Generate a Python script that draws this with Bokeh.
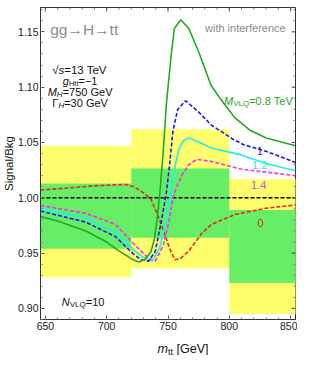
import numpy as np
from bokeh.plotting import figure
from bokeh.layouts import column
from bokeh.models import Range1d, FixedTicker, PrintfTickFormatter, Label
from bokeh.embed import file_html
from bokeh.resources import INLINE

# ---------------- data ----------------
# expected-limit bands (bins in m_tt)
bin_lo = [645, 720, 800]
bin_hi = [720, 800, 855]
sig2_lo = [0.928, 0.936, 0.895]
sig2_hi = [1.047, 1.062, 1.017]
sig1_lo = [0.954, 0.964, 0.923]
sig1_hi = [1.013, 1.0265, 0.989]

# M_VLQ = 0.8 TeV
m_08 = [646, 660, 683, 700, 710, 720, 726, 731, 736, 739, 741, 743, 746, 748.7, 752.6, 755.2, 760.5, 767, 775, 785, 793, 804, 817, 830, 854]
r_08 = [0.983, 0.979, 0.970, 0.960, 0.952, 0.945, 0.942, 0.944, 0.951, 0.963, 0.980, 1.000, 1.040, 1.085, 1.129, 1.153, 1.161, 1.153, 1.132, 1.102, 1.089, 1.073, 1.061, 1.054, 1.047]
# M_VLQ = 1 TeV
m_10 = [646, 683, 707, 722, 728, 734, 739.5, 744.8, 748.7, 751.3, 754, 757.9, 764.4, 775, 785.4, 793.3, 803.8, 811.7, 830, 854]
r_10 = [0.988, 0.978, 0.965, 0.949, 0.944, 0.9426, 0.951, 0.980, 1.005, 1.030, 1.060, 1.080, 1.0877, 1.0775, 1.0657, 1.060, 1.0524, 1.048, 1.042, 1.032]
# M_VLQ = 1.2 TeV
m_12 = [646, 683, 707, 722, 730, 737, 743, 748.7, 752.6, 756, 759.2, 763, 767, 777.6, 785.4, 809, 830, 854]
r_12 = [0.990, 0.982, 0.9685, 0.953, 0.946, 0.9426, 0.954, 0.980, 1.008, 1.030, 1.045, 1.052, 1.054, 1.049, 1.045, 1.039, 1.031, 1.0244]
# M_VLQ = 1.4 TeV
m_14 = [646, 683, 707, 722.4, 733, 739.5, 746, 751, 754, 757, 762, 767, 773.5, 785, 809, 854]
r_14 = [0.993, 0.986, 0.976, 0.958, 0.9464, 0.9426, 0.9567, 0.980, 1.000, 1.010, 1.0215, 1.030, 1.0347, 1.033, 1.026, 1.020]
# no VLQ (0)
m_00 = [646, 670, 690, 710, 716, 722, 728, 736, 741, 746, 751, 755.5, 760, 767, 777.6, 785.4, 804, 830, 854]
r_00 = [1.007, 1.009, 1.0108, 1.0118, 1.012, 1.010, 1.006, 0.999, 0.986, 0.9715, 0.955, 0.944, 0.945, 0.952, 0.968, 0.976, 0.9847, 0.9906, 0.9935]
# SM reference line
m_sm = [646, 854]
r_sm = [1.0, 1.0]

x_major = [650, 700, 750, 800, 850]
y_major = [0.90, 0.95, 1.00, 1.05, 1.10, 1.15]
x_minor = [float(v) for v in np.arange(650, 851, 10)]
y_minor = [round(float(v), 2) for v in np.arange(0.89, 1.171, 0.01)]

# ---------------- styling ----------------
FONT = "Liberation Sans"
C_YEL = "#ffff6e"
C_GRN = "#66ee66"
C_G = "#22aa22"
C_B = "#1a1aee"
C_C = "#22eeee"
C_M = "#ee33ee"
C_R = "#ee2222"
GRAY = "#8c8c8c"
X0, X1 = 646, 854
Y0, Y1 = 0.890, 1.172

p = figure(width=297, height=333, x_range=Range1d(X0, X1), y_range=Range1d(Y0, Y1),
           output_backend="svg", toolbar_location=None,
           min_border_left=35, min_border_right=2, min_border_top=7, min_border_bottom=14)
p.grid.visible = False
p.outline_line_color = "#333333"
p.background_fill_color = "white"
p.border_fill_color = "white"

xt = FixedTicker(ticks=x_major, minor_ticks=x_minor)
yt = FixedTicker(ticks=y_major, minor_ticks=y_minor)
for ax in (p.xaxis[0], p.yaxis[0]):
    ax.axis_line_color = "#333333"
    ax.major_tick_line_color = "#555555"
    ax.minor_tick_line_color = "#777777"
    ax.major_tick_in = 4
    ax.major_tick_out = 0
    ax.minor_tick_in = 2
    ax.minor_tick_out = 0
    ax.major_label_text_font = FONT
    ax.major_label_text_color = "#222222"
    ax.major_label_text_font_size = "10.5px"
p.xaxis.ticker = xt
p.yaxis.ticker = yt
p.xaxis.formatter = PrintfTickFormatter(format="%d")
p.yaxis.formatter = PrintfTickFormatter(format="%.2f")
p.xaxis.major_label_standoff = 2
p.yaxis.major_label_standoff = 2
p.yaxis.axis_label = "Signal/Bkg"
p.yaxis.axis_label_text_font = FONT
p.yaxis.axis_label_text_font_size = "11.5px"
p.yaxis.axis_label_text_font_style = "normal"
p.yaxis.axis_label_text_color = "#111111"
p.yaxis.axis_label_standoff = 0

# bands
p.quad(left=bin_lo, right=bin_hi, bottom=sig2_lo, top=sig2_hi, fill_color=C_YEL, line_color=None)
p.quad(left=bin_lo, right=bin_hi, bottom=sig1_lo, top=sig1_hi, fill_color=C_GRN, line_color=None)

# curves
p.line(m_sm, r_sm, line_color="black", line_width=1.4, line_dash="4 2")
p.line(m_00, r_00, line_color=C_R, line_width=1.6, line_dash="4 2")
p.line(m_14, r_14, line_color=C_M, line_width=1.6, line_dash="4 2")
p.line(m_12, r_12, line_color=C_C, line_width=1.6)
p.line(m_10, r_10, line_color=C_B, line_width=1.6, line_dash="4 2")
p.line(m_08, r_08, line_color=C_G, line_width=1.6)

# frame ticks on top and right (inward)
p.ray(x=x_minor, y=[Y1] * len(x_minor), length=2, angle=-np.pi / 2, length_units="screen", line_color="#777777", line_width=1)
p.ray(x=x_major, y=[Y1] * len(x_major), length=4, angle=-np.pi / 2, length_units="screen", line_color="#555555", line_width=1)
p.ray(x=[X1] * len(y_minor), y=y_minor, length=2, angle=np.pi, length_units="screen", line_color="#777777", line_width=1)
p.ray(x=[X1] * len(y_major), y=y_major, length=4, angle=np.pi, length_units="screen", line_color="#555555", line_width=1)

# ---------------- texts ----------------
W = {' ': 278, '.': 278, '=': 584, '-': 333, '\u2212': 584, 'G': 778, 'T': 611, 'e': 556, 'V': 667,
     'H': 722, 'M': 833, 'N': 722, 'L': 556, 'Q': 778, 't': 278, 's': 500, 'g': 556, 'm': 833,
     '\u221a': 549, '\u0393': 556, '[': 278, ']': 278, 'i': 222, 'w': 722, 'h': 556, 'n': 556,
     'r': 333, 'f': 278, 'c': 500, '\u2192': 1000}

def tw(s, size):
    return sum(W.get(c, 556) for c in s) * size / 1000.0

def rich(fig, x, y, parts, color, align="left"):
    total = sum(tw(t, s) for t, s, it, dy in parts)
    off = {"left": 0.0, "center": -total / 2.0, "right": -total}[align]
    for t, s, it, dy in parts:
        body = t.lstrip(" ")
        off += tw(t[:len(t) - len(body)], s)
        fig.add_layout(Label(x=x, y=y, x_offset=off, y_offset=-dy, text=body, text_font=FONT,
                             text_font_size=f"{s}px", text_font_style="italic" if it else "normal",
                             text_color=color, text_baseline="alphabetic", text_align="left"))
        off += tw(body, s)

rich(p, 653.9, 1.1517, [("gg\u2192H\u2192tt", 15.5, False, 0)], GRAY)
rich(p, 846, 1.1534, [("with interference", 11, False, 0)], GRAY, align="right")

cx = 678.3
rich(p, cx, 1.1157, [("\u221a", 11.5, False, 0), ("s", 11.5, True, 0), ("=13 TeV", 11.5, False, 0)], "#111111", "center")
rich(p, cx, 1.1060, [("g", 11, True, 0), ("Htt", 7.5, False, 2.5), ("=\u22121", 11, False, 0)], "#111111", "center")
rich(p, cx, 1.0958, [("M", 11, True, 0), ("H", 8, True, 2.5), ("=750 GeV", 11, False, 0)], "#111111", "center")
rich(p, cx, 1.0857, [("\u0393", 11, False, 0), ("H", 8, True, 2.5), ("=30 GeV", 11, False, 0)], "#111111", "center")

rich(p, 795.7, 1.0877, [("M", 11, True, 0), ("VLQ", 8, False, 2.5), ("=0.8 TeV", 11, False, 0)], C_G)
rich(p, 824.8, 1.0421, [("1", 11, False, 0)], C_B, "center")
rich(p, 824.8, 1.0292, [("1.2", 11, False, 0)], C_C, "center")
rich(p, 824.0, 1.0115, [("1.4", 11, False, 0)], "#dd44dd", "center")
rich(p, 825.6, 0.9770, [("0", 11, False, 0)], C_R, "center")
rich(p, 663.4, 0.9060, [("N", 11, True, 0), ("VLQ", 8, False, 2.5), ("=10", 11, False, 0)], "#111111")

# x-axis title strip (pixel coordinates)
q = figure(width=297, height=22, x_range=Range1d(0, 297), y_range=Range1d(0, 22),
           output_backend="svg", toolbar_location=None,
           min_border_left=0, min_border_right=0, min_border_top=0, min_border_bottom=0)
q.axis.visible = False
q.grid.visible = False
q.outline_line_color = None
q.border_fill_color = "white"
rich(q, 166, 7, [("m", 12.5, True, 0), ("tt", 9, False, 3), (" [GeV]", 12.5, False, 0)], "#111111", "center")

layout = column(p, q, spacing=0)
open("out.html", "w").write(file_html(layout, INLINE))
